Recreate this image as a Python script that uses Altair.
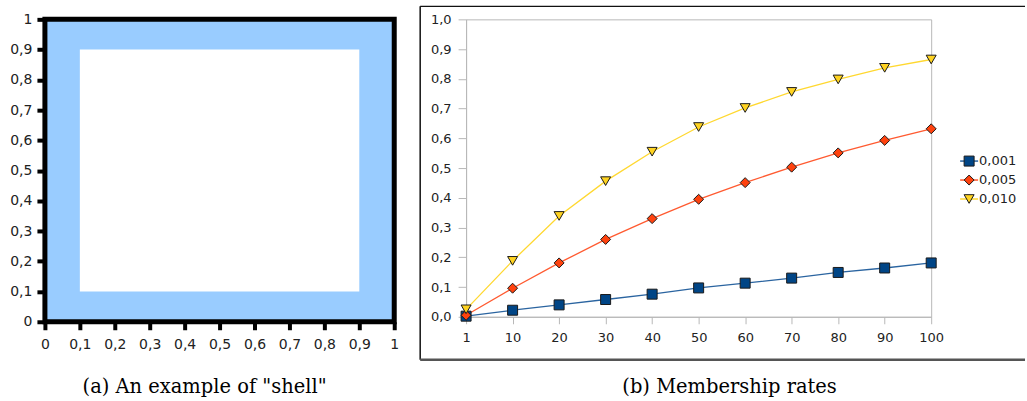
import altair as alt
import pandas as pd

# ---------------- panel (a): the "shell" ----------------
shell_outer = [0.0, 1.0]
shell_inner = [0.1, 0.9]
ticks_a = [0, 0.1, 0.2, 0.3, 0.4, 0.5, 0.6, 0.7, 0.8, 0.9, 1.0]
caption_a = '(a)  An example of "shell"'

# ---------------- panel (b): membership rates ----------------
sizes = ["1", "10", "20", "30", "40", "50", "60", "70", "80", "90", "100"]
series_names = ["0,001", "0,005", "0,010"]
rate_001 = [0.002, 0.022, 0.040, 0.058, 0.076, 0.097, 0.113, 0.130, 0.149, 0.164, 0.181]
rate_005 = [0.005, 0.096, 0.181, 0.260, 0.330, 0.395, 0.451, 0.503, 0.551, 0.593, 0.632]
rate_010 = [0.025, 0.188, 0.339, 0.456, 0.555, 0.638, 0.702, 0.756, 0.798, 0.837, 0.865]
ticks_b = [0, 0.1, 0.2, 0.3, 0.4, 0.5, 0.6, 0.7, 0.8, 0.9, 1.0]
caption_b = "(b)  Membership rates"

marker_colors = ["#004586", "#ff420e", "#ffd320"]
line_colors = ["#2a64a0", "#ff5a30", "#ffd830"]
marker_shapes = ["square", "diamond", "triangle-down"]
marker_sizes = [100, 100, 170]
legend_marker_sizes = [58, 50, 80]

FONT = "DejaVu Sans"
SERIF = "DejaVu Serif"

# ---------- left chart ----------
df_outer = pd.DataFrame({"x0": [shell_outer[0]], "x1": [shell_outer[1]],
                         "y0": [shell_outer[0]], "y1": [shell_outer[1]]})
df_inner = pd.DataFrame({"x0": [shell_inner[0]], "x1": [shell_inner[1]],
                         "y0": [shell_inner[0]], "y1": [shell_inner[1]]})
lab_a = "replace(format(datum.value, '~g'), '.', ',')"

ax_a_x = alt.Axis(values=ticks_a, labelExpr=lab_a, title=None, domain=False, grid=False,
                  tickColor="black", tickWidth=4, tickSize=8, labelPadding=8,
                  labelFont=FONT, labelFontSize=14, labelColor="#222",
                  labelFlush=False, labelOverlap=False, zindex=1)
ax_a_y = alt.Axis(values=ticks_a, labelExpr=lab_a, title=None, domain=False, grid=False,
                  tickColor="black", tickWidth=4, tickSize=8, labelPadding=5,
                  labelFont=FONT, labelFontSize=14, labelColor="#222",
                  labelFlush=False, labelOverlap=False, zindex=1)
sx_a = alt.Scale(domain=shell_outer, nice=False, zero=False)
sy_a = alt.Scale(domain=shell_outer, nice=False, zero=False)


def shell_rect(df, **mark):
    return alt.Chart(df).mark_rect(**mark).encode(
        x=alt.X("x0:Q", scale=sx_a, axis=ax_a_x), x2="x1:Q",
        y=alt.Y("y0:Q", scale=sy_a, axis=ax_a_y), y2="y1:Q")


outer = shell_rect(df_outer, color="#99ccff")
inner = shell_rect(df_inner, color="white")
frame = shell_rect(df_outer, fillOpacity=0, stroke="black", strokeWidth=5)
cap_a = alt.Chart(pd.DataFrame({"c": [caption_a]})).mark_text(
    font=SERIF, fontSize=19.5, align="center", baseline="alphabetic", color="#000"
).encode(text="c:N", x=alt.value(160), y=alt.value(374))

left = alt.layer(outer, inner, frame, cap_a).properties(
    width=350, height=303, view=alt.ViewBackground(strokeWidth=0))

# ---------- right chart ----------
rows = []
for name, vals in zip(series_names, [rate_001, rate_005, rate_010]):
    for i, (s, v) in enumerate(zip(sizes, vals)):
        rows.append({"size": s, "idx": i, "rate": v, "series": name})
df_b = pd.DataFrame(rows)

lab_b = "replace(format(datum.value, '.1f'), '.', ',')"
xb = alt.X("size:N", sort=sizes, scale=alt.Scale(type="point", padding=0),
           axis=alt.Axis(title=None, labelAngle=0, domainColor="#b8b8b8", tickColor="#b8b8b8",
                         tickSize=7, labelPadding=8, labelFont=FONT, labelFontSize=13,
                         labelColor="#222", grid=False))
yb = alt.Y("rate:Q", scale=alt.Scale(domain=[0, 1], nice=False),
           axis=alt.Axis(values=ticks_b, labelExpr=lab_b, title=None, domainColor="#b8b8b8",
                         tickColor="#b8b8b8", tickSize=8, labelPadding=7, labelFont=FONT,
                         labelFontSize=13, labelColor="#222", grid=False,
                         labelFlush=False, labelOverlap=False))

s_line = alt.Scale(domain=series_names, range=line_colors)
s_fill = alt.Scale(domain=series_names, range=marker_colors)
s_shape = alt.Scale(domain=series_names, range=marker_shapes)

lines = alt.Chart(df_b).mark_line(strokeWidth=1.3).encode(
    x=xb, y=yb,
    color=alt.Color("series:N", scale=s_line, legend=None),
    order=alt.Order("idx:Q"))
points = alt.Chart(df_b).mark_point(filled=True, stroke="#1a1a1a", strokeWidth=1, opacity=1).encode(
    x=xb, y=yb,
    fill=alt.Fill("series:N", scale=s_fill, legend=None),
    shape=alt.Shape("series:N", scale=s_shape, legend=None),
    size=alt.Size("series:N", scale=alt.Scale(domain=series_names, range=marker_sizes), legend=None))

deco = pd.DataFrame({"c": [caption_b]})
box_top = alt.Chart(deco).mark_rule(color="#111", strokeWidth=1.5).encode(
    x=alt.value(-46), x2=alt.value(560), y=alt.value(-13))
box_left = alt.Chart(deco).mark_rule(color="#111", strokeWidth=1.5).encode(
    x=alt.value(-46), y=alt.value(-13), y2=alt.value(341))
box_bottom = alt.Chart(deco).mark_rule(color="#555", strokeWidth=2.5).encode(
    x=alt.value(-46), x2=alt.value(560), y=alt.value(341))
cap_b = alt.Chart(deco).mark_text(
    font=SERIF, fontSize=19.5, align="center", baseline="alphabetic", color="#000"
).encode(text="c:N", x=alt.value(264), y=alt.value(374))

right = alt.layer(lines, points, box_top, box_left, box_bottom, cap_b).properties(
    width=466, height=298, view=alt.ViewBackground(stroke="#b8b8b8", strokeWidth=1))

# ---------- legend (line + marker per series) ----------
df_leg = pd.DataFrame({"series": series_names})
ly = alt.Y("series:N", scale=alt.Scale(type="point", domain=series_names, range=[142, 180], padding=0),
           axis=None)
leg_line = alt.Chart(df_leg).mark_rule(strokeWidth=1.5).encode(
    x=alt.value(0), x2=alt.value(18), y=ly,
    color=alt.Color("series:N", scale=s_line, legend=None))
leg_mark = alt.Chart(df_leg).mark_point(filled=True, stroke="#1a1a1a", strokeWidth=1, opacity=1).encode(
    x=alt.value(9), y=ly,
    fill=alt.Fill("series:N", scale=s_fill, legend=None),
    shape=alt.Shape("series:N", scale=s_shape, legend=None),
    size=alt.Size("series:N", scale=alt.Scale(domain=series_names, range=legend_marker_sizes),
                  legend=None))
leg_text = alt.Chart(df_leg).mark_text(
    font=FONT, fontSize=13, align="left", baseline="middle", color="#222"
).encode(x=alt.value(19), y=ly, text="series:N")
legend_chart = alt.layer(leg_line, leg_mark, leg_text).properties(
    width=60, height=298, view=alt.ViewBackground(strokeWidth=0))

right_block = alt.hconcat(right, legend_chart, spacing=29, bounds="flush")

chart = alt.hconcat(left, right_block, spacing=72, bounds="flush").properties(
    padding={"left": 9, "top": 4, "right": 0, "bottom": 0}
).configure(background="white")

chart.save("out.html", embed_options={"renderer": "svg", "actions": False})
